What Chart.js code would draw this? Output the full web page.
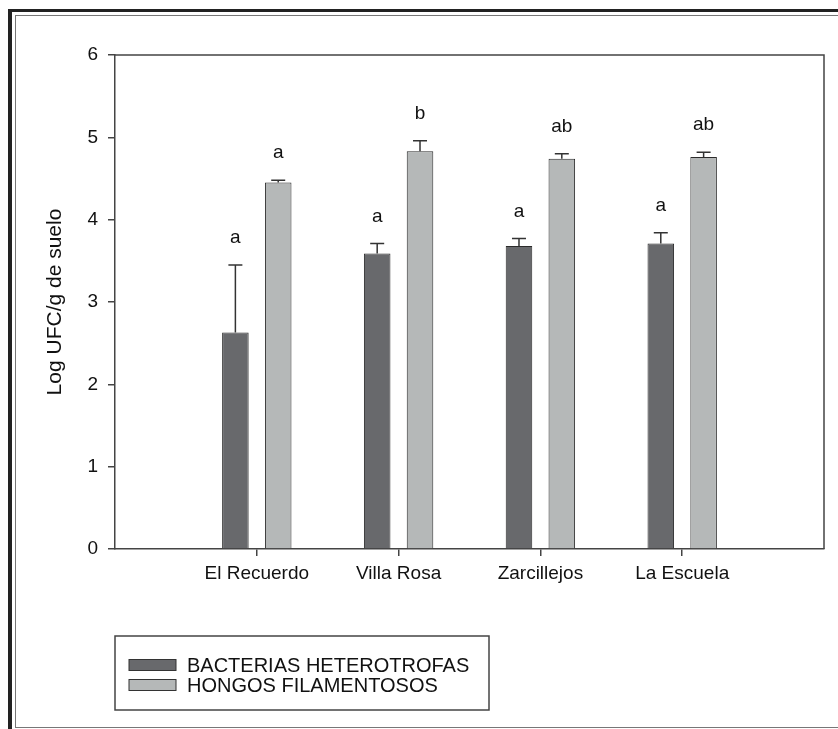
<!DOCTYPE html>
<html>
<head>
<meta charset="utf-8">
<script src="https://cdn.jsdelivr.net/npm/chart.js@4"></script>
<style>
    html, body { margin: 0; padding: 0; background: #fff; }
    body { width: 838px; height: 729px; position: relative; overflow: hidden; }
    #frameOuter {
        position: absolute; left: 8px; top: 9px; width: 900px; height: 800px;
        border-left: 4px solid #222; border-top: 3px solid #222;
    }
    #frameInner {
        position: absolute; left: 15px; top: 15px; width: 900px; height: 711px;
        border-left: 1.5px solid #777; border-top: 1.5px solid #777; border-bottom: 1.5px solid #777;
    }
    #wrap { position: absolute; left: 0; top: 0; width: 838px; height: 729px; }
</style>
</head>
<body>
<div id="frameOuter"></div>
<div id="frameInner"></div>
<div id="wrap"><canvas id="grafik"></canvas></div>
<script>
// ===== data =====
const categories = ["El Recuerdo", "Villa Rosa", "Zarcillejos", "La Escuela"];
const bacterias = [2.63, 3.59, 3.68, 3.71];
const bacteriasErr = [0.82, 0.12, 0.09, 0.13];
const bacteriasLetras = ["a", "a", "a", "a"];
const hongos = [4.45, 4.83, 4.74, 4.76];
const hongosErr = [0.03, 0.13, 0.06, 0.06];
const hongosLetras = ["a", "b", "ab", "ab"];
const yTicks = [0, 1, 2, 3, 4, 5, 6];

const FONT = "'Liberation Sans', Arial, sans-serif";

// error bars + letras over every bar
const errorBars = {
    id: "errorBars",
    afterDatasetsDraw(chart) {
        const ctx = chart.ctx;
        const y = chart.scales.y;
        chart.data.datasets.forEach((ds, di) => {
            const meta = chart.getDatasetMeta(di);
            meta.data.forEach((bar, i) => {
                const v = ds.data[i].y;
                const top = y.getPixelForValue(v + ds.err[i]);
                ctx.save();
                ctx.strokeStyle = "#333";
                ctx.lineWidth = 1.5;
                ctx.beginPath();
                ctx.moveTo(bar.x, bar.y);
                ctx.lineTo(bar.x, top);
                ctx.moveTo(bar.x - 7, top);
                ctx.lineTo(bar.x + 7, top);
                ctx.stroke();
                ctx.fillStyle = "#111";
                ctx.font = "19px " + FONT;
                ctx.textAlign = "center";
                ctx.textBaseline = "middle";
                ctx.fillText(ds.letras[i], bar.x, top - 27);
                ctx.restore();
            });
        });
    },
};

// box round the plot + legend box below
const marco = {
    id: "marco",
    afterDraw(chart) {
        const ctx = chart.ctx;
        const a = chart.chartArea;
        ctx.save();
        ctx.strokeStyle = "#444";
        ctx.lineWidth = 1.5;
        ctx.beginPath();
        ctx.moveTo(a.left, a.top);
        ctx.lineTo(a.right, a.top);
        ctx.lineTo(a.right, a.bottom);
        ctx.stroke();

        // legend
        ctx.strokeRect(a.left, 636, 374, 74);
        ctx.font = "20px " + FONT;
        ctx.textAlign = "left";
        ctx.textBaseline = "middle";
        chart.data.datasets.forEach((ds, i) => {
            const cy = 665 + i * 20;
            ctx.fillStyle = ds.backgroundColor;
            ctx.fillRect(a.left + 14, cy - 5.5, 47, 11);
            ctx.lineWidth = 1;
            ctx.strokeStyle = "#333";
            ctx.strokeRect(a.left + 14, cy - 5.5, 47, 11);
            ctx.fillStyle = "#111";
            ctx.fillText(ds.label, a.left + 72, cy + 1);
        });
        ctx.restore();
    },
};

const toPoints = (arr) => arr.map((v, i) => ({ x: i + 1, y: v }));

new Chart(document.getElementById("grafik"), {
    type: "bar",
    data: {
        datasets: [
            {
                label: "BACTERIAS HETEROTROFAS",
                data: toPoints(bacterias),
                err: bacteriasErr,
                letras: bacteriasLetras,
                backgroundColor: "#68696c",
                borderColor: "#2b2b2b",
                borderWidth: 1,
            },
            {
                label: "HONGOS FILAMENTOSOS",
                data: toPoints(hongos),
                err: hongosErr,
                letras: hongosLetras,
                backgroundColor: "#b5b8b8",
                borderColor: "#2b2b2b",
                borderWidth: 1,
            },
        ],
    },
    options: {
        responsive: true,
        maintainAspectRatio: false,
        animation: false,
        categoryPercentage: 0.604,
        barPercentage: 0.62,
        layout: { padding: { top: 55, right: 14, left: 0, bottom: 0 } },
        plugins: { legend: { display: false }, tooltip: { enabled: false } },
        scales: {
            x: {
                type: "linear",
                min: 0,
                max: 5,
                offset: false,
                afterBuildTicks: (axis) => {
                    axis.ticks = categories.map((c, i) => ({ value: i + 1 }));
                },
                afterFit: (axis) => { axis.height = 180; },
                ticks: {
                    callback: (v) => categories[v - 1] ?? "",
                    color: "#111",
                    font: { family: FONT, size: 19 },
                    padding: 6,
                    maxRotation: 0,
                },
                grid: { offset: false, drawOnChartArea: false, drawTicks: true, tickLength: 7, color: "#444", lineWidth: 1.5 },
                border: { display: true, color: "#444", width: 1.5 },
            },
            y: {
                min: 0,
                max: 6,
                afterBuildTicks: (axis) => {
                    axis.ticks = yTicks.map((v) => ({ value: v }));
                },
                afterFit: (axis) => { axis.width = 115; },
                ticks: {
                    color: "#111",
                    font: { family: FONT, size: 19 },
                    padding: 10,
                },
                grid: { drawOnChartArea: false, drawTicks: true, tickLength: 7, color: "#444", lineWidth: 1.5 },
                border: { display: true, color: "#444", width: 1.5 },
                title: {
                    display: true,
                    text: "Log UFC/g de suelo",
                    color: "#111",
                    font: { family: FONT, size: 21 },
                    padding: { top: 43, bottom: 0 },
                },
            },
        },
    },
    plugins: [errorBars, marco],
});
</script>
</body>
</html>
